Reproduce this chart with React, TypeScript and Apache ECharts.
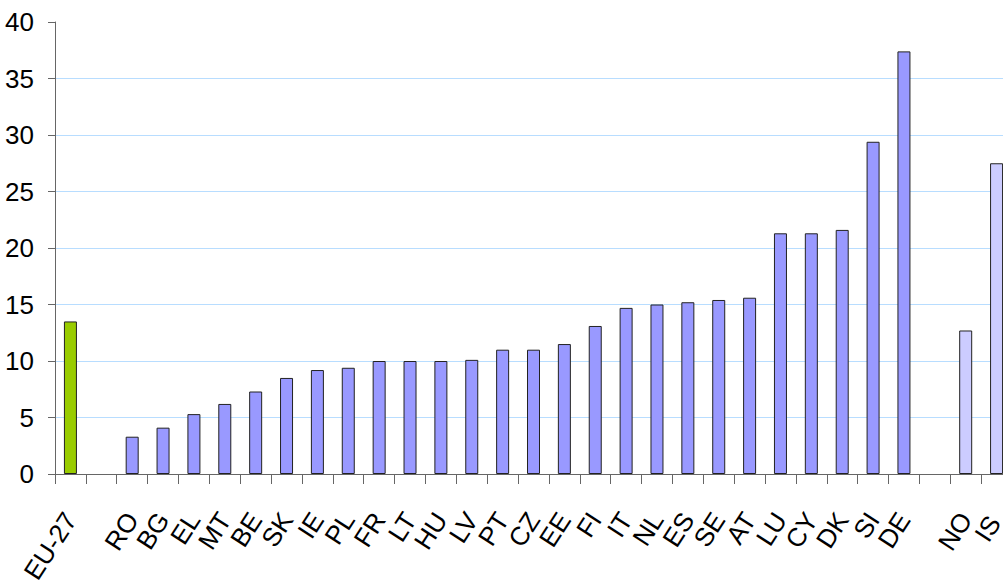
import React, { useEffect, useRef } from "react";
import * as echarts from "echarts";

// categories along the x axis ("" and " " are the two gaps)
const categories = [
  "EU-27", "", "RO", "BG", "EL", "MT", "BE", "SK", "IE", "PL", "FR", "LT", "HU",
  "LV", "PT", "CZ", "EE", "FI", "IT", "NL", "ES", "SE", "AT", "LU", "CY", "DK",
  "SI", "DE", " ", "NO", "IS",
];

const values = [
  13.5, null, 3.3, 4.1, 5.3, 6.2, 7.3, 8.5, 9.2, 9.4, 10.0, 10.0, 10.0,
  10.1, 11.0, 11.0, 11.5, 13.1, 14.7, 15.0, 15.2, 15.4, 15.6, 21.3, 21.3, 21.6,
  29.4, 37.4, null, 12.7, 27.5,
];

const aggregateCodes = ["EU-27"];
const nonEuCodes = ["NO", "IS"];

const yTicks = [0, 5, 10, 15, 20, 25, 30, 35, 40];

const App = () => {
  const chartRef = useRef(null);

  useEffect(() => {
    const chart = echarts.init(chartRef.current, null, { renderer: "svg" });

    const barData = values.map((v, i) => {
      const code = categories[i];
      let color = "#9999ff";
      if (aggregateCodes.includes(code)) color = "#99cc00";
      if (nonEuCodes.includes(code)) color = "#ccccff";
      return {
        value: v,
        itemStyle: { color, borderColor: "#222", borderWidth: 1 },
      };
    });

    // last label sits at the right edge, keep its box inside the page
    const axisData = categories.map((c, i) =>
      i === categories.length - 1
        ? { value: c, textStyle: { lineHeight: 20, padding: [0, 4, 0, 0] } }
        : c
    );

    // no grid line at the top value (40)
    const gridColors = yTicks.map((t, i) =>
      i === yTicks.length - 1 ? "transparent" : "#b8ddff"
    );

    const option = {
      animation: false,
      grid: {
        left: 55,
        right: -9,
        top: 22,
        bottom: 111,
        containLabel: false,
        outerBoundsMode: "none",
      },
      xAxis: {
        type: "category",
        data: axisData,
        axisLine: { lineStyle: { color: "#666", width: 1 } },
        axisTick: { show: true, length: 10, lineStyle: { color: "#666" } },
        axisLabel: {
          interval: 0,
          rotate: 57,
          margin: 41,
          color: "#000",
          fontSize: 26,
          fontFamily: "Liberation Sans, Arial, sans-serif",
        },
      },
      yAxis: {
        type: "value",
        min: 0,
        max: 40,
        interval: 5,
        axisLine: { show: true, lineStyle: { color: "#666", width: 1 } },
        axisTick: { show: true, length: 7, lineStyle: { color: "#666" } },
        splitLine: { show: true, lineStyle: { color: gridColors, width: 1 } },
        axisLabel: {
          margin: 21,
          color: "#000",
          fontSize: 26,
          fontFamily: "Liberation Sans, Arial, sans-serif",
        },
      },
      series: [
        {
          type: "bar",
          data: barData,
          barWidth: 13,
        },
      ],
    };

    chart.setOption(option);

    return () => {
      chart.dispose();
    };
  }, []);

  return (
    <div
      ref={chartRef}
      style={{
        position: "fixed",
        left: 0,
        top: 0,
        width: "1003px",
        height: "585px",
        background: "#fff",
      }}
    />
  );
};

export default App;
